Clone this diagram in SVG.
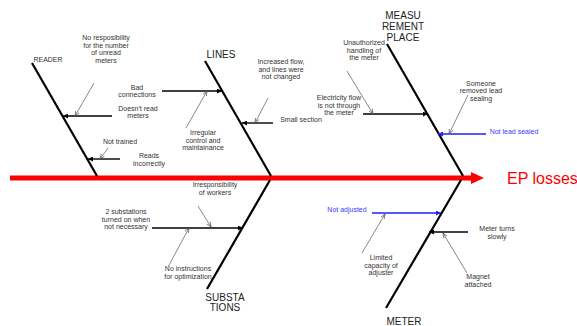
<svg xmlns="http://www.w3.org/2000/svg" width="577" height="326" viewBox="0 0 577 326">
<style>
.t{font-family:"Liberation Sans",Arial,sans-serif;font-size:7px;fill:#333;text-anchor:middle}
.lb{font-family:"Liberation Sans",Arial,sans-serif;font-size:10px;fill:#222;text-anchor:middle}
.bone{stroke:#000;stroke-width:2.2;fill:none}
.br{stroke:#000;stroke-width:1.4;fill:none;marker-end:url(#ah)}
.bb{stroke:#1f1fff;stroke-width:1.4;fill:none;marker-end:url(#ahb)}
.sa{stroke:#555;stroke-width:0.7;fill:none;marker-end:url(#sh)}
.blue{fill:#3a3aff}
</style>
<defs>
<marker id="ah" viewBox="0 0 10 10" refX="10" refY="5" markerWidth="5" markerHeight="5" markerUnits="userSpaceOnUse" orient="auto"><path d="M0,0L10,5L0,10z" fill="#000"/></marker>
<marker id="ahb" viewBox="0 0 10 10" refX="10" refY="5" markerWidth="5" markerHeight="5" markerUnits="userSpaceOnUse" orient="auto"><path d="M0,0L10,5L0,10z" fill="#1f1fff"/></marker>
<marker id="sh" viewBox="0 0 10 10" refX="10" refY="5" markerWidth="5" markerHeight="5" markerUnits="userSpaceOnUse" orient="auto"><path d="M0,1L10,5L0,9" fill="none" stroke="#555" stroke-width="1.4"/></marker>
</defs>

<g id="spine">
<line x1="10" y1="178" x2="473" y2="178" stroke="#ff0000" stroke-width="5"/>
<polygon points="471,172 484,178 471,184" fill="#ff0000"/>
<text x="507" y="184" font-family="'Liberation Sans',Arial,sans-serif" font-size="16" fill="#ff0000">EP losses</text>
</g>

<g id="reader">
<line class="bone" x1="32" y1="63" x2="97" y2="176"/>
<text class="t" x="48" y="62">READER</text>
</g>
<g id="lines">
<line class="bone" x1="205" y1="61" x2="271" y2="176"/>
<text class="lb" x="221" y="58">LINES</text>
</g>
<g id="measurement">
<line class="bone" x1="387" y1="44" x2="463" y2="176"/>
<text class="lb" x="403" y="19">MEASU</text>
<text class="lb" x="403" y="30">REMENT</text>
<text class="lb" x="403" y="41">PLACE</text>
</g>
<g id="substations">
<line class="bone" x1="270" y1="180" x2="207" y2="289"/>
<text class="lb" x="225" y="301">SUBSTA</text>
<text class="lb" x="225" y="311">TIONS</text>
</g>
<g id="meter">
<line class="bone" x1="461" y1="180" x2="386" y2="308"/>
<text class="lb" x="404" y="325">METER</text>
</g>

<g id="labels">
<text class="t" x="106" y="40">No resposibility</text>
<text class="t" x="106" y="47.5">for the number</text>
<text class="t" x="106" y="55">of unread</text>
<text class="t" x="106" y="62.5">meters</text>
<text class="t" x="137" y="89.5">Bad</text>
<text class="t" x="137" y="97">connections</text>
<text class="t" x="138" y="110.5">Doesn't read</text>
<text class="t" x="138" y="118">meters</text>
<text class="t" x="120" y="143.5">Not trained</text>
<text class="t" x="149" y="158">Reads</text>
<text class="t" x="149" y="165.5">incorrectly</text>
<text class="t" x="203" y="135">Irregular</text>
<text class="t" x="203" y="142.5">control and</text>
<text class="t" x="203" y="150">maintainance</text>
<text class="t" x="281" y="64">Increased flow,</text>
<text class="t" x="281" y="71.5">and lines were</text>
<text class="t" x="281" y="79">not changed</text>
<text class="t" x="301" y="121.5">Small section</text>
<text class="t" x="364" y="45">Unauthorized</text>
<text class="t" x="364" y="52.5">handling of</text>
<text class="t" x="364" y="60">the meter</text>
<text class="t" x="339" y="100">Electricity flow</text>
<text class="t" x="339" y="107.5">is not through</text>
<text class="t" x="339" y="115">the meter</text>
<text class="t" x="481" y="85.5">Someone</text>
<text class="t" x="481" y="93">removed lead</text>
<text class="t" x="481" y="100.5">sealing</text>
<text class="t blue" x="514" y="133.5">Not lead sealed</text>
<text class="t" x="215" y="187">Irresponsibility</text>
<text class="t" x="215" y="194.5">of workers</text>
<text class="t" x="126" y="214">2 substations</text>
<text class="t" x="126" y="221.5">turned on when</text>
<text class="t" x="126" y="229">not necessary</text>
<text class="t" x="188" y="271">No instructions</text>
<text class="t" x="188" y="278.5">for optimization</text>
<text class="t blue" x="347" y="212">Not adjusted</text>
<text class="t" x="381" y="260">Limited</text>
<text class="t" x="381" y="267.5">capacity of</text>
<text class="t" x="381" y="275">adjuster</text>
<text class="t" x="497" y="231">Meter turns</text>
<text class="t" x="497" y="238.5">slowly</text>
<text class="t" x="478" y="279">Magnet</text>
<text class="t" x="478" y="286.5">attached</text>
</g>

<g id="connectors">
<line class="br" x1="112" y1="116" x2="63" y2="116"/>
<line class="sa" x1="94" y1="83" x2="75" y2="116"/>
<line class="br" x1="120" y1="159" x2="88" y2="159"/>
<line class="sa" x1="108" y1="148" x2="100" y2="159"/>
<line class="br" x1="162" y1="91" x2="222" y2="91"/>
<line class="sa" x1="186" y1="128" x2="207" y2="91"/>
<line class="br" x1="273" y1="123" x2="242" y2="123"/>
<line class="sa" x1="268" y1="98" x2="255" y2="123"/>
<line class="br" x1="363" y1="114" x2="428" y2="114"/>
<line class="sa" x1="347" y1="71" x2="373" y2="114"/>
<line class="bb" x1="486" y1="134" x2="438" y2="134"/>
<line class="sa" x1="468" y1="95" x2="449" y2="134"/>
<line class="br" x1="152" y1="228" x2="243" y2="228"/>
<line class="sa" x1="198" y1="206" x2="211" y2="227"/>
<line class="sa" x1="168" y1="267" x2="189" y2="228"/>
<line class="bb" x1="372" y1="213" x2="441" y2="213"/>
<line class="sa" x1="362" y1="253" x2="385" y2="214"/>
<line class="br" x1="468" y1="232" x2="429" y2="232"/>
<line class="sa" x1="467" y1="273" x2="443" y2="233"/>
</g>
</svg>
